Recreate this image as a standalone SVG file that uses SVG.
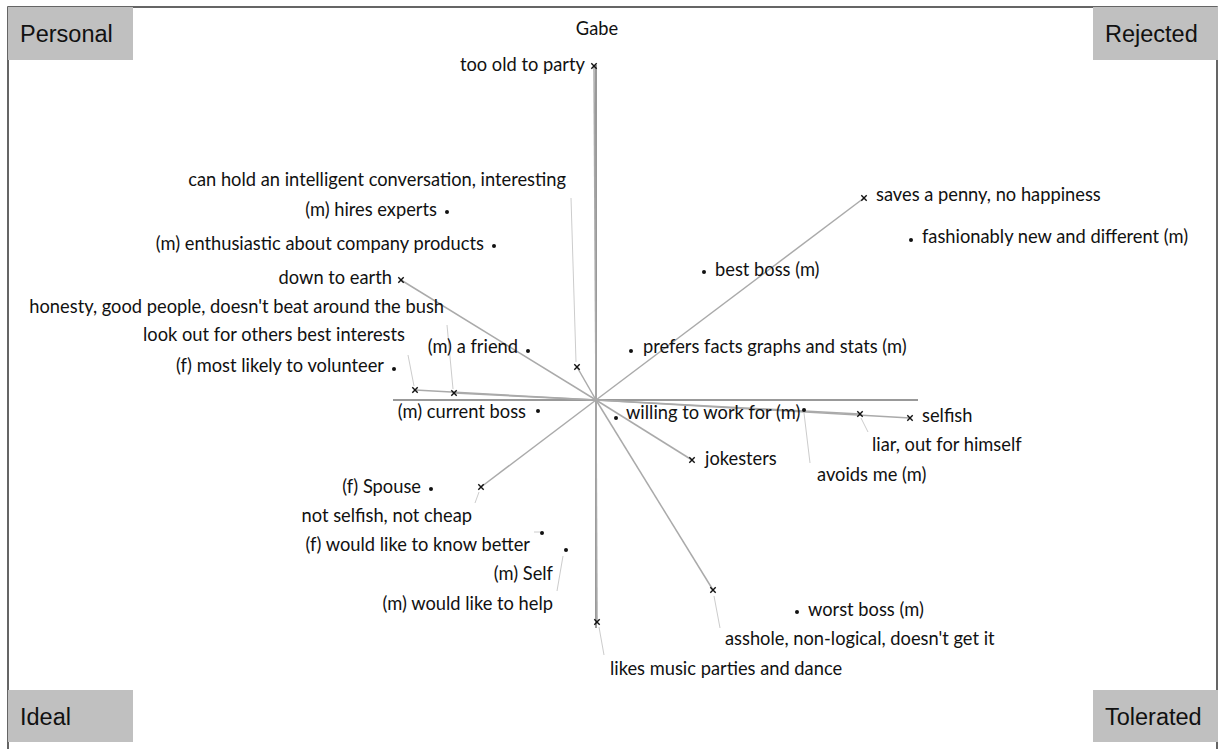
<svg xmlns="http://www.w3.org/2000/svg" width="1218" height="749" viewBox="0 0 1218 749">
  <defs>
    <style>
      .frame { stroke: #333; stroke-width: 1.5; fill: none; }
      .corner rect { fill: #c0c0c0; }
      .corner text { font-family: "Liberation Sans", Arial, sans-serif; font-size: 23.5px; fill: #111; }
      .axis { stroke: #999; stroke-width: 2; fill: none; }
      .construct { stroke: #aaa; stroke-width: 1.5; fill: none; }
      .leader { stroke: #ccc; stroke-width: 1; fill: none; }
      .lbl { font-family: Lato, "Open Sans", sans-serif; font-size: 18.3px; fill: #111; }
      .end { text-anchor: end; }
      .cross { stroke: #111; stroke-width: 1.4; }
      .dot { fill: #111; }
    </style>
    <g id="xm"><path class="cross" d="M-2.7,-2.7 L2.7,2.7 M-2.7,2.7 L2.7,-2.7"/></g>
    <circle id="dm" class="dot" r="2"/>
  </defs>

  <rect width="1218" height="749" fill="#fff"/>

  <!-- outer frame -->
  <path class="frame" d="M8,749 L8,7 L1217,7 L1217,749"/>

  <!-- quadrant labels -->
  <g id="personal" class="corner"><rect x="8" y="7" width="125" height="53"/><text x="20" y="42">Personal</text></g>
  <g id="rejected" class="corner"><rect x="1093" y="7" width="125" height="53"/><text x="1105" y="42">Rejected</text></g>
  <g id="ideal" class="corner"><rect x="8" y="690" width="125" height="52"/><text x="20" y="725">Ideal</text></g>
  <g id="tolerated" class="corner"><rect x="1093" y="690" width="125" height="52"/><text x="1105" y="725">Tolerated</text></g>

  <text id="title" class="lbl" x="597" y="35" text-anchor="middle" font-size="15">Gabe</text>

  <!-- axes, construct vectors and label leaders -->
  <g id="connectors">
    <line class="axis" x1="596" y1="65" x2="596" y2="628"/>
    <line class="axis" x1="393" y1="400" x2="918" y2="400"/>

    <line class="construct" x1="596" y1="400" x2="594" y2="66"/>
    <line class="construct" x1="596" y1="400" x2="597" y2="622"/>
    <line class="construct" x1="596" y1="400" x2="401" y2="280"/>
    <line class="construct" x1="596" y1="400" x2="577" y2="367"/>
    <line class="construct" x1="596" y1="400" x2="864" y2="198"/>
    <line class="construct" x1="596" y1="400" x2="481" y2="487"/>
    <line class="construct" x1="596" y1="400" x2="692" y2="460"/>
    <line class="construct" x1="596" y1="400" x2="713" y2="590"/>
    <line class="construct" x1="596" y1="400" x2="910" y2="418"/>
    <line class="construct" x1="596" y1="400" x2="860" y2="414"/>
    <line class="construct" x1="596" y1="400" x2="415" y2="390"/>
    <line class="construct" x1="596" y1="400" x2="454" y2="393"/>

    <line class="leader" x1="571" y1="198" x2="576" y2="362"/>
    <line class="leader" x1="447" y1="325" x2="453" y2="389"/>
    <line class="leader" x1="408" y1="355" x2="414" y2="386"/>
    <line class="leader" x1="804" y1="413" x2="810" y2="463"/>
    <line class="leader" x1="861" y1="418" x2="868" y2="432"/>
    <line class="leader" x1="479" y1="492" x2="475" y2="503"/>
    <line class="leader" x1="534" y1="532" x2="540" y2="532"/>
    <line class="leader" x1="563" y1="556" x2="557" y2="591"/>
    <line class="leader" x1="599" y1="627" x2="604" y2="655"/>
    <line class="leader" x1="714" y1="596" x2="720" y2="628"/>
  </g>

  <!-- elements and constructs -->
  <g id="too-old"><use href="#xm" x="594" y="66"/><text class="lbl end" x="585" y="71">too old to party</text></g>
  <g id="intelligent"><use href="#xm" x="577" y="367"/><text class="lbl end" x="566" y="186">can hold an intelligent conversation, interesting</text></g>
  <g id="hires-experts"><use href="#dm" x="447" y="212"/><text class="lbl end" x="437" y="216">(m) hires experts</text></g>
  <g id="enthusiastic"><use href="#dm" x="494" y="246"/><text class="lbl end" x="484" y="250">(m) enthusiastic about company products</text></g>
  <g id="down-to-earth"><use href="#xm" x="401" y="280"/><text class="lbl end" x="392" y="284">down to earth</text></g>
  <g id="honesty"><use href="#xm" x="454" y="393"/><text class="lbl end" x="444" y="313">honesty, good people, doesn't beat around the bush</text></g>
  <g id="look-out"><use href="#xm" x="415" y="390"/><text class="lbl end" x="405" y="341">look out for others best interests</text></g>
  <g id="volunteer"><use href="#dm" x="394" y="369"/><text class="lbl end" x="384" y="372">(f) most likely to volunteer</text></g>
  <g id="friend"><use href="#dm" x="528" y="351"/><text class="lbl end" x="518" y="353">(m) a friend</text></g>
  <g id="current-boss"><use href="#dm" x="538" y="411"/><text class="lbl end" x="526" y="418">(m) current boss</text></g>
  <g id="prefers-facts"><use href="#dm" x="631" y="351"/><text class="lbl" x="643" y="353">prefers facts graphs and stats (m)</text></g>
  <g id="best-boss"><use href="#dm" x="704" y="272"/><text class="lbl" x="715" y="276">best boss (m)</text></g>
  <g id="saves-penny"><use href="#xm" x="864" y="198"/><text class="lbl" x="876" y="201">saves a penny, no happiness</text></g>
  <g id="fashionably"><use href="#dm" x="911" y="240"/><text class="lbl" x="922" y="243">fashionably new and different (m)</text></g>
  <g id="willing"><use href="#dm" x="616" y="418"/><text class="lbl" x="626" y="419">willing to work for (m)</text></g>
  <g id="avoids-me"><use href="#dm" x="804" y="410"/><text class="lbl" x="817" y="481">avoids me (m)</text></g>
  <g id="selfish"><use href="#xm" x="910" y="418"/><text class="lbl" x="922" y="422">selfish</text></g>
  <g id="liar"><use href="#xm" x="860" y="414"/><text class="lbl" x="872" y="451">liar, out for himself</text></g>
  <g id="jokesters"><use href="#xm" x="692" y="460"/><text class="lbl" x="705" y="465">jokesters</text></g>
  <g id="spouse"><use href="#dm" x="431" y="489"/><text class="lbl end" x="421" y="493">(f) Spouse</text></g>
  <g id="not-selfish"><use href="#xm" x="481" y="487"/><text class="lbl end" x="472" y="522">not selfish, not cheap</text></g>
  <g id="know-better"><use href="#dm" x="542" y="533"/><text class="lbl end" x="530" y="551">(f) would like to know better</text></g>
  <g id="self"><use href="#dm" x="566" y="550"/><text class="lbl end" x="553" y="580">(m) Self</text></g>
  <g id="like-to-help"><text class="lbl end" x="553" y="610">(m) would like to help</text></g>
  <g id="music"><use href="#xm" x="597" y="622"/><text class="lbl" x="610" y="675">likes music parties and dance</text></g>
  <g id="asshole"><use href="#xm" x="713" y="590"/><text class="lbl" x="725" y="645">asshole, non-logical, doesn't get it</text></g>
  <g id="worst-boss"><use href="#dm" x="797" y="612"/><text class="lbl" x="808" y="616">worst boss (m)</text></g>
</svg>
